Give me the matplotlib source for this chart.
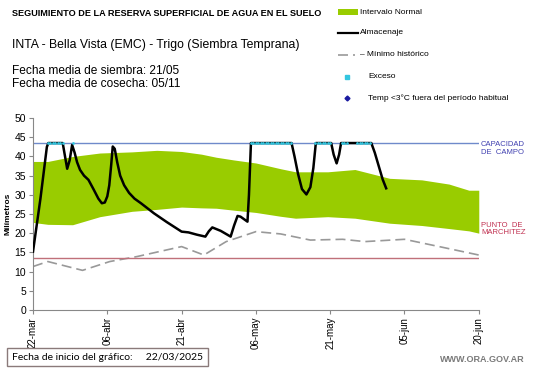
import matplotlib
matplotlib.use('Agg')
import matplotlib.pyplot as plt
from matplotlib.lines import Line2D
import pandas as pd

plt.rcParams['font.family'] = ['Liberation Sans', 'DejaVu Sans']

start = pd.Timestamp('2025-03-22')

# Intervalo normal (days from start, lower / upper in mm)
band_days = [0, 3, 8, 13.5, 20, 25, 30, 34, 37, 40.5, 45, 50, 53, 59.5, 65, 72, 78.5, 84, 88, 90]
band_low = [22.8, 22.3, 22.2, 24.3, 25.7, 26.2, 26.8, 26.6, 26.5, 26.0, 25.4, 24.4, 23.9, 24.3, 23.9, 22.6, 22.0, 21.2, 20.6, 20.0]
band_high = [38.7, 38.7, 40.0, 40.9, 41.2, 41.6, 41.3, 40.6, 39.8, 39.1, 38.3, 36.8, 36.0, 36.0, 36.6, 34.3, 33.9, 32.8, 31.2, 31.2]

# Minimo historico
min_days = [0, 3, 10, 15.5, 21, 30, 34.5, 39, 45, 50, 56, 62.5, 67, 75, 82, 90]
min_vals = [11.3, 12.6, 10.3, 12.6, 13.9, 16.5, 14.3, 17.8, 20.4, 19.8, 18.2, 18.4, 17.8, 18.4, 16.5, 14.3]

# Almacenaje
alm_days = [0, 1.5, 2.8, 3.1, 6.0, 6.4, 6.9, 7.4, 7.9, 8.4, 8.9, 9.5, 10.3, 11.2, 12.2, 13.2, 13.9,
            14.5, 15.0, 15.4, 15.8, 16.1, 16.5, 17.0, 17.6, 18.4, 19.4, 20.5, 21.8, 23.0, 24.4,
            27.0, 30.0, 31.4, 33.1, 34.8, 35.5, 36.2, 37.9, 39.9, 40.6, 41.3, 41.9, 43.3, 43.6, 44.0,
            52.2, 52.8, 53.5, 54.3, 55.2, 56.0, 56.6, 57.1, 60.2, 60.7, 61.3, 61.8, 62.2, 68.3,
            69.0, 69.8, 70.6, 71.3]
alm_vals = [15.2, 29.0, 42.5, 43.5, 43.5, 40.5, 36.8, 39.0, 43.0, 41.0, 38.5, 36.5, 35.0, 33.9, 31.5, 29.0, 27.8,
            28.0, 29.6, 32.5, 38.0, 42.6, 42.0, 38.5, 35.0, 32.5, 30.5, 29.0, 27.8, 26.6, 25.2,
            22.9, 20.4, 20.2, 19.6, 19.1, 20.5, 21.5, 20.6, 19.1, 22.0, 24.5, 24.3, 23.0, 30.0, 43.5,
            43.5, 40.0, 35.5, 31.5, 30.1, 32.0, 37.0, 43.5, 43.5, 40.5, 38.2, 40.5, 43.5, 43.5,
            41.0, 37.5, 34.0, 31.7]

# Exceso (days with storage at field capacity)
exc_days = [3, 3.5, 4, 4.5, 5, 5.5, 6, 8,
            44, 44.5, 45, 45.5, 46, 46.5, 47, 47.5, 48, 48.5, 49, 49.5, 50, 50.5, 51, 51.5, 52,
            57, 57.5, 58, 58.5, 59, 59.5, 60, 62.3, 62.8, 63.3,
            65.5, 66, 66.5, 67, 67.5, 68]

capacidad = 43.4
marchitez = 13.5

tick_labels = ['22-mar', '06-abr', '21-abr', '06-may', '21-may', '05-jun', '20-jun']


def to_dates(days):
    return [start + pd.Timedelta(days=float(d)) for d in days]


fig = plt.figure(figsize=(5.41, 3.68), dpi=100)
ax = fig.add_axes([0.061, 0.158, 0.824, 0.521])

ax.fill_between(to_dates(band_days), band_low, band_high, color='#99cc00', lw=0, zorder=1)
ax.plot(to_dates(min_days), min_vals, color='#999999', lw=1.2, dashes=(6, 3), zorder=2)
x0, x1 = start, start + pd.Timedelta(days=90)
ax.plot([x0, x1], [capacidad, capacidad], color='#6f8acb', lw=1.0, zorder=2)
ax.plot([x0, x1], [marchitez, marchitez], color='#c0707a', lw=1.0, zorder=2)
ax.plot(to_dates(alm_days), alm_vals, color='black', lw=1.8, zorder=3, solid_joinstyle='round')
ax.plot(to_dates(exc_days), [capacidad] * len(exc_days), ls='none', marker='o',
        ms=2.0, mew=0, color='#33c6e0', zorder=4)

ax.set_xlim(x0, x1)
ax.set_ylim(0, 50)
ax.set_yticks(range(0, 51, 5))
ticks = [start + pd.Timedelta(days=15 * i) for i in range(7)]
ax.set_xticks(ticks)
ax.set_xticklabels(tick_labels, rotation=90, fontsize=7)
ax.tick_params(axis='y', labelsize=7.5, length=3, color='#888888', pad=2)
ax.tick_params(axis='x', length=3, color='#888888', pad=2)
for s in ['top', 'right']:
    ax.spines[s].set_visible(False)
for s in ['left', 'bottom']:
    ax.spines[s].set_color('#888888')
ax.set_ylabel('Milímetros', fontsize=6, fontweight='bold', labelpad=2)

# right side labels
ax.text(1.005, capacidad + 0.6, 'CAPACIDAD\nDE  CAMPO', transform=ax.get_yaxis_transform(),
        color='#4040b0', fontsize=5.5, va='top', ha='left', linespacing=1.1)
ax.text(1.005, 21.1, 'PUNTO  DE\nMARCHITEZ', transform=ax.get_yaxis_transform(),
        color='#c03050', fontsize=5.5, va='center', ha='left', linespacing=1.1)

# header texts
fig.text(12 / 541, 1 - 14 / 368, 'SEGUIMIENTO DE LA RESERVA SUPERFICIAL DE AGUA EN EL SUELO',
         fontsize=6.6, fontweight='bold', va='center')
fig.text(12 / 541, 1 - 45 / 368, 'INTA - Bella Vista (EMC) - Trigo (Siembra Temprana)',
         fontsize=8.8, va='center')
fig.text(12 / 541, 1 - 71 / 368, 'Fecha media de siembra: 21/05', fontsize=8.6, va='center')
fig.text(12 / 541, 1 - 84 / 368, 'Fecha media de cosecha: 05/11', fontsize=8.6, va='center')


# legend drawn by hand
def ly(py):
    return 1 - py / 368


fig.patches.append(plt.Rectangle((338 / 541, ly(15)), 20 / 541, 6 / 368, transform=fig.transFigure,
                                 color='#99cc00', lw=0))
fig.lines.append(Line2D([338 / 541, 358 / 541], [ly(33), ly(33)], transform=fig.transFigure,
                        color='black', lw=1.6))
fig.lines.append(Line2D([338 / 541, 355 / 541], [ly(55), ly(55)], transform=fig.transFigure,
                        color='#999999', lw=1.2, dashes=(6, 3)))
fig.lines.append(Line2D([347 / 541], [ly(77)], transform=fig.transFigure, ls='none', marker='s',
                        ms=2.2, color='#33c6e0'))
fig.lines.append(Line2D([347 / 541], [ly(98)], transform=fig.transFigure, ls='none', marker='D',
                        ms=2.5, color='#1a1aa0'))
leg_items = [(360, 12, 'Intervalo Normal'), (360, 33, 'Almacenaje'),
             (360, 55, '– Mínimo histórico'), (368, 77, 'Exceso'),
             (368, 98, 'Temp <3°C fuera del período habitual')]
for px, py, t in leg_items:
    fig.text(px / 541, ly(py), t, fontsize=6, va='center')

# footer
fig.text(12 / 541, ly(357), 'Fecha de inicio del gráfico:     22/03/2025', fontsize=7.5,
         family=['Lato', 'DejaVu Sans'], va='center',
         bbox=dict(boxstyle='square,pad=0.45', fc='white', ec='#8a7a7a', lw=1))
fig.text(525 / 541, ly(360), 'WWW.ORA.GOV.AR', fontsize=6.5, fontweight='bold', color='#7a7a7a',
         ha='right', va='center')

fig.savefig('out.png', dpi=100)
